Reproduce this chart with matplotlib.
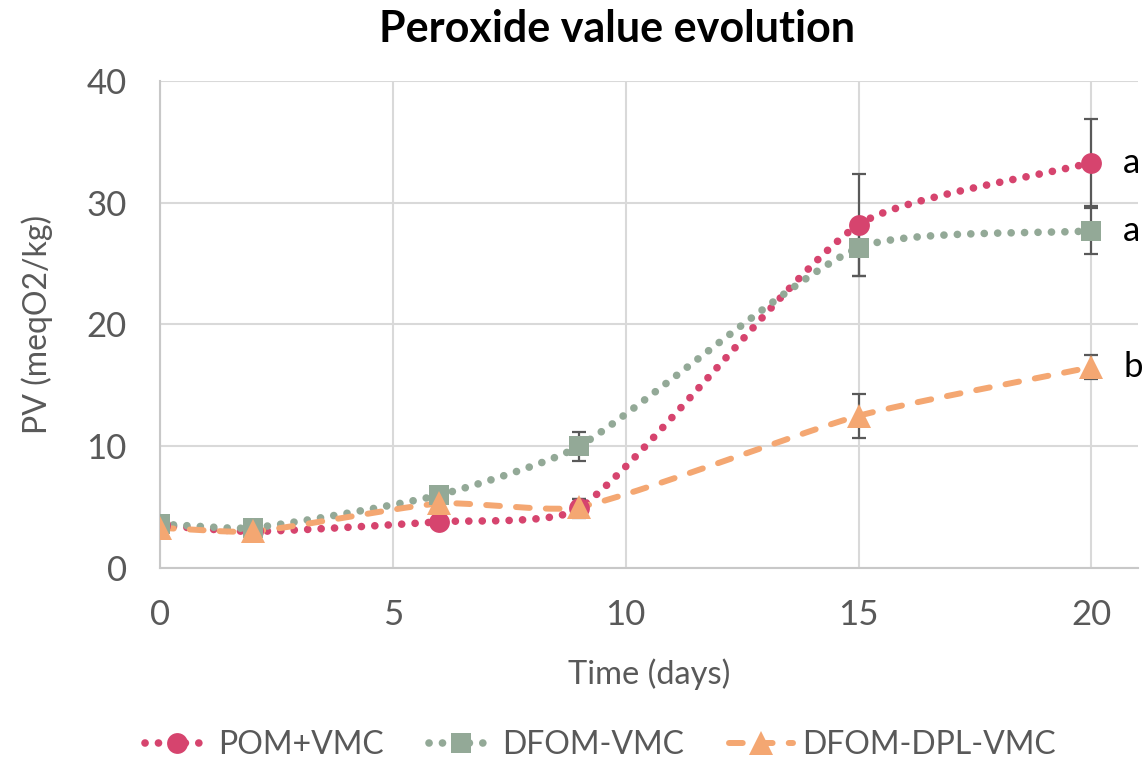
import numpy as np
import matplotlib
matplotlib.use("Agg")
import matplotlib.pyplot as plt
from matplotlib.lines import Line2D

# sampling days and peroxide values (meqO2/kg) for each oil
days = [0, 2, 6, 9, 15, 20]

pom_vmc = [3.5, 3.0, 3.8, 4.9, 28.2, 33.3]
pom_vmc_err = [0.0, 0.0, 0.0, 0.8, 4.2, 3.6]

dfom_vmc = [3.6, 3.3, 6.0, 10.0, 26.3, 27.7]
dfom_vmc_err = [0.0, 0.0, 0.3, 1.2, 2.3, 1.9]

dfom_dpl_vmc = [3.3, 3.0, 5.3, 5.0, 12.5, 16.5]
dfom_dpl_vmc_err = [0.0, 0.0, 0.0, 0.7, 1.8, 1.0]

series_names = ["POM+VMC", "DFOM-VMC", "DFOM-DPL-VMC"]
letters = ["a", "a", "b"]

GREY = "#595959"
plt.rcParams['font.family'] = ['Lato', 'DejaVu Sans']


def smooth_line(ax, x, y, k=0.2, n=50):
    """bezier-smoothed path through the points, built in screen space"""
    pts = ax.transData.transform(np.column_stack([x, y]))
    last = len(pts) - 1
    out = [pts[:1]]
    for i in range(last):
        p0, p3 = pts[i], pts[i + 1]
        seg = np.hypot(*(p3 - p0))
        t0 = pts[min(i + 1, last)] - pts[max(i - 1, 0)]
        t1 = pts[min(i + 2, last)] - pts[i]
        t0 = t0 / np.hypot(*t0)
        t1 = t1 / np.hypot(*t1)
        p1 = p0 + t0 * seg * k
        p2 = p3 - t1 * seg * k
        t = np.linspace(0, 1, n)[1:, None]
        b = ((1 - t) ** 3 * p0 + 3 * (1 - t) ** 2 * t * p1
             + 3 * (1 - t) * t ** 2 * p2 + t ** 3 * p3)
        out.append(b)
    return ax.transData.inverted().transform(np.vstack(out)).T


fig = plt.figure(figsize=(11.48, 7.62), dpi=100)
ax = fig.add_axes([0.1394, 0.2546, 0.8519, 0.6391])
ax.set_xlim(0, 21)
ax.set_ylim(0, 40)

dot = (0, (0.01, 1.75))
styles = [
    dict(color="#D6446E", marker="o", ms=15, ls=dot, lw=5.5),
    dict(color="#93A997", marker="s", ms=14, ls=dot, lw=5.5),
    dict(color="#F4A772", marker="^", ms=17, ls=(0, (2.3, 2.7)), lw=4.3),
]
values = [pom_vmc, dfom_vmc, dfom_dpl_vmc]
errors = [pom_vmc_err, dfom_vmc_err, dfom_dpl_vmc_err]

for vals, st in zip(values, styles):
    sx, sy = smooth_line(ax, days, vals)
    ax.plot(sx, sy, color=st["color"], lw=st["lw"], ls=st["ls"],
            dash_capstyle="round", zorder=3)

for vals, errs, st in zip(values, errors, styles):
    ax.errorbar(days, vals, yerr=errs, fmt="none", ecolor=GREY,
                elinewidth=1.6, capsize=5, capthick=1.6, zorder=4)
    ax.plot(days, vals, ls="none", marker=st["marker"], ms=st["ms"],
            color=st["color"], markeredgewidth=0, zorder=5)

# significance letters at the last sampling day
for vals, letter in zip(values, letters):
    ax.text(20.68, vals[-1], letter, fontsize=25, color="black",
            ha="left", va="center", zorder=6)

ax.set_xticks([0, 5, 10, 15, 20])
ax.set_yticks([0, 10, 20, 30, 40])
ax.grid(True, color="#D9D9D9", lw=1.5)
ax.set_axisbelow(True)
for side in ["top", "right"]:
    ax.spines[side].set_visible(False)
for side in ["left", "bottom"]:
    ax.spines[side].set_color("#C8C8C8")
    ax.spines[side].set_linewidth(1.5)
ax.tick_params(length=0, labelsize=25, labelcolor=GREY)
ax.tick_params(axis="x", pad=22)
ax.tick_params(axis="y", pad=24)

ax.set_xlabel("Time (days)", fontsize=23.5, color=GREY, labelpad=20)
ax.set_ylabel("PV (meqO2/kg)", fontsize=23, color=GREY, labelpad=24)
fig.text(0.5375, 0.962, "Peroxide value evolution", fontsize=31,
         fontweight="bold", color="black", ha="center", va="center")

handles = [
    Line2D([], [], color=st["color"], lw=st["lw"], ls=st["ls"],
           dash_capstyle="round", marker=st["marker"], ms=st["ms"],
           markeredgewidth=0)
    for st in styles
]
fig.legend(handles, series_names, loc="center", ncol=3,
           bbox_to_anchor=(0.523, 0.022), frameon=False, fontsize=23,
           labelcolor=GREY, handlelength=2.0, columnspacing=1.4,
           handletextpad=0.3)

fig.savefig("out.png", dpi=100)
